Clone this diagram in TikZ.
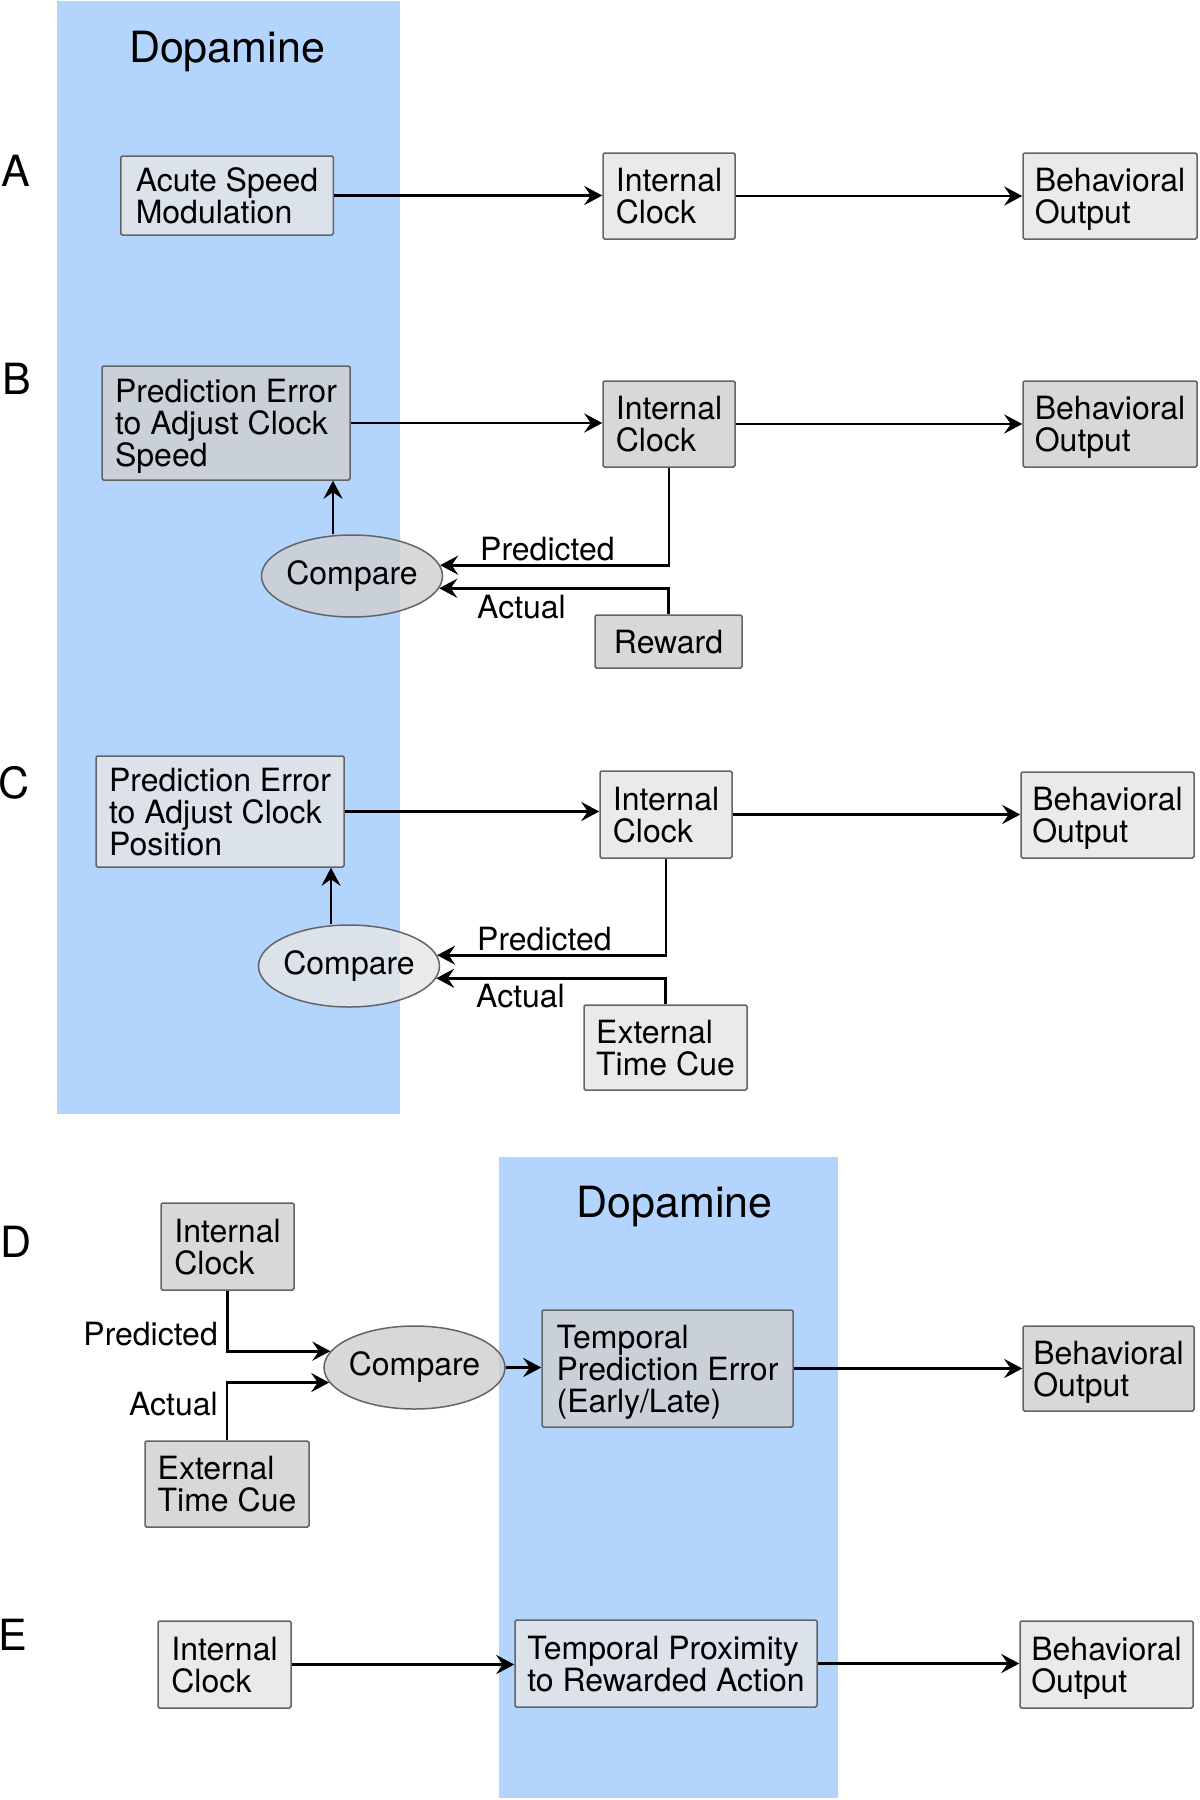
\documentclass[tikz,border=0pt]{standalone}
\usepackage{fontspec}
\setmainfont{TeX Gyre Heros}
\usetikzlibrary{shapes.geometric,arrows.meta}
\definecolor{dopa}{RGB}{179,212,253}
\definecolor{lightfill}{RGB}{230,230,230}
\definecolor{darkfill}{RGB}{208,208,208}
\definecolor{edgegray}{RGB}{100,100,100}
\begin{document}
\begin{tikzpicture}[x=1pt,y=-1pt,
  box/.style={draw=edgegray, line width=1.5pt, rounded corners=1.5pt, fill opacity=0.82, text opacity=1, align=left, inner sep=0pt, text depth=0pt, font=\fontsize{32}{32}\selectfont},
  lt/.style={fill=lightfill}, dk/.style={fill=darkfill},
  cmp/.style={ellipse, draw=edgegray, line width=1.5pt, fill opacity=0.82, text opacity=1, inner xsep=-4pt, inner ysep=0pt, minimum width=181pt, minimum height=82pt, font=\fontsize{32}{32}\selectfont},
  arr/.style={line width=2.8pt, -{Stealth[length=18pt,width=19pt,inset=6.5pt]}},
  lbl/.style={font=\fontsize{32}{32}\selectfont, inner sep=0pt},
  big/.style={font=\fontsize{43}{43}\selectfont, inner sep=0pt}]
\useasboundingbox (0,0) rectangle (1200,1800);
\fill[white] (0,0) rectangle (1200,1800);
% dopamine bands
\fill[dopa] (57,1) rectangle (400,1114);
\fill[dopa] (499,1157) rectangle (838,1798);
\node[big, anchor=base] (dopaA) at (227,62) {Dopamine};
\node[big, anchor=base] (dopaD) at (674.5,1217) {Dopamine};
% panel letters
\node[big] (labA) at (16,171) {A};
\node[big] (labB) at (17,379) {B};
\node[big] (labC) at (14,783) {C};
\node[big] (labD) at (16,1242) {D};
\node[big] (labE) at (13,1635) {E};
% Row A
\node[box, lt, minimum width=212.5pt, minimum height=79pt] (aSpeed) at (227,195.5) {Acute Speed\\Modulation};
\node[box, lt, minimum width=132pt, minimum height=86pt] (aClock) at (669,196) {Internal\\Clock};
\node[box, lt, minimum width=174pt, minimum height=86pt] (aOut) at (1110,196) {Behavioral\\Output};
% Row B
\node[box, dk, minimum width=248pt, minimum height=114pt] (bPE) at (226,423) {Prediction Error\\to Adjust Clock\\Speed};
\node[box, dk, minimum width=132pt, minimum height=86pt] (bClock) at (669,424) {Internal\\Clock};
\node[box, dk, minimum width=174pt, minimum height=86pt] (bOut) at (1110,424) {Behavioral\\Output};
\node[cmp, fill=darkfill] (bCmp) at (352,576) {Compare};
\node[box, dk, minimum width=147pt, minimum height=53pt] (bReward) at (668.5,641.5) {Reward};
\node[lbl, anchor=base west] (bPred) at (480,560) {Predicted};
\node[lbl, anchor=base west] (bAct) at (477,618) {Actual};
% Row C
\node[box, lt, minimum width=248pt, minimum height=111pt] (cPE) at (220,811.5) {Prediction Error\\to Adjust Clock\\Position};
\node[box, lt, minimum width=132pt, minimum height=87pt] (cClock) at (666,814.5) {Internal\\Clock};
\node[box, lt, minimum width=173pt, minimum height=86pt] (cOut) at (1107.5,815) {Behavioral\\Output};
\node[cmp, fill=lightfill] (cCmp) at (349,966) {Compare};
\node[box, lt, minimum width=163pt, minimum height=85pt] (cCue) at (665.5,1047.5) {External\\Time Cue};
\node[lbl, anchor=base west] (cPred) at (477,950) {Predicted};
\node[lbl, anchor=base west] (cAct) at (476,1007) {Actual};
% Row D
\node[box, dk, minimum width=133pt, minimum height=87pt] (dClock) at (227.5,1246.5) {Internal\\Clock};
\node[box, dk, minimum width=164pt, minimum height=86pt] (dCue) at (227,1484) {External\\Time Cue};
\node[cmp, fill=darkfill, minimum height=83pt] (dCmp) at (414.5,1367.5) {Compare};
\node[box, dk, minimum width=251pt, minimum height=117pt] (dTPE) at (667.5,1368.5) {Temporal\\Prediction Error\\(Early/Late)};
\node[box, dk, minimum width=171pt, minimum height=85pt] (dOut) at (1108.5,1368.5) {Behavioral\\Output};
\node[lbl, anchor=base east] (dPred) at (218,1345) {Predicted};
\node[lbl, anchor=base east] (dAct) at (218,1415) {Actual};
% Row E
\node[box, lt, minimum width=133pt, minimum height=87pt] (eClock) at (224.5,1664.5) {Internal\\Clock};
\node[box, lt, minimum width=302pt, minimum height=87pt] (eTPA) at (666,1663.5) {Temporal Proximity\\to Rewarded Action};
\node[box, lt, minimum width=173pt, minimum height=87pt] (eOut) at (1106.5,1664.5) {Behavioral\\Output};
% connectors A
\draw[arr] (aSpeed.east) -- (aSpeed.east -| aClock.west);
\draw[arr] (aClock.east) -- (aOut.west);
% connectors B
\draw[arr] (bPE.east) -- (bPE.east -| bClock.west);
\draw[arr] (bClock.east) -- (bOut.west);
\draw[arr] ([xshift=-19pt]bCmp.north) -- ([xshift=-19pt]bCmp.north |- bPE.south);
\draw[arr] (bClock.south) |- (bCmp.7);
\draw[arr] (bReward.north) |- (bCmp.-8);
% connectors C
\draw[arr] (cPE.east) -- (cPE.east -| cClock.west);
\draw[arr] (cClock.east) -- (cClock.east -| cOut.west);
\draw[arr] ([xshift=-18pt]cCmp.north) -- ([xshift=-18pt]cCmp.north |- cPE.south);
\draw[arr] (cClock.south) |- (cCmp.7);
\draw[arr] (cCue.north) |- (cCmp.-8);
% connectors D
\draw[arr] (dClock.south) |- (dCmp.169);
\draw[arr] (dCue.north) |- (dCmp.190);
\draw[arr] (dCmp.east) -- (dCmp.east -| dTPE.west);
\draw[arr] (dTPE.east) -- (dTPE.east -| dOut.west);
% connectors E
\draw[arr] (eClock.east) -- (eClock.east -| eTPA.west);
\draw[arr] (eTPA.east) -- (eTPA.east -| eOut.west);
\end{tikzpicture}
\end{document}
